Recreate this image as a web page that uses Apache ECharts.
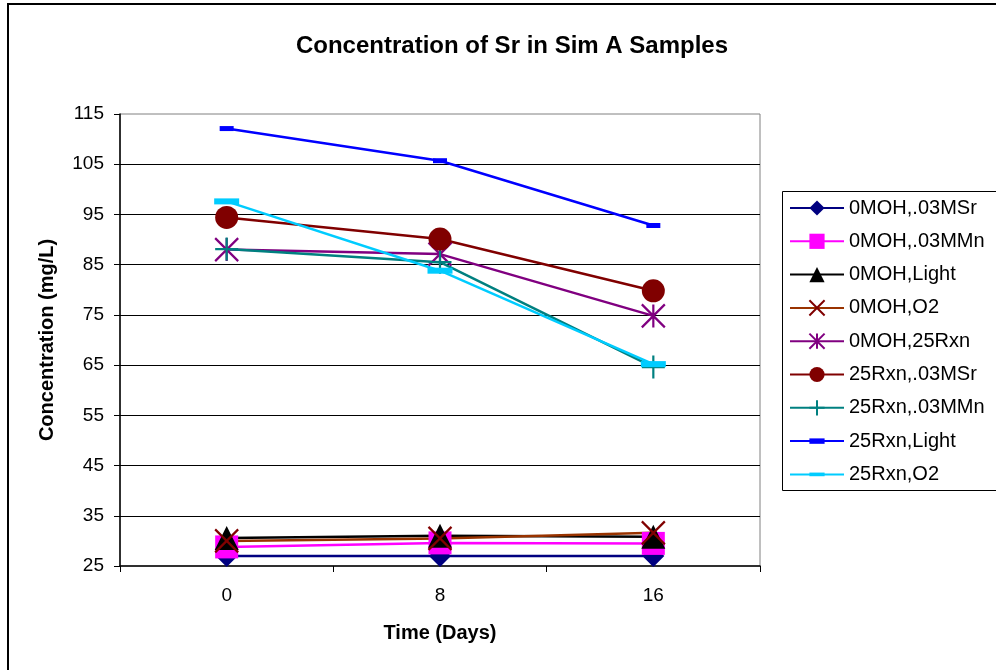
<!DOCTYPE html>
<html>
<head>
<meta charset="utf-8">
<title>Concentration of Sr in Sim A Samples</title>
<script src="https://cdn.jsdelivr.net/npm/echarts@6/dist/echarts.min.js"></script>
<style>
  html, body { margin: 0; padding: 0; background: #fff; }
  #chart { width: 996px; height: 670px; }
</style>
</head>
<body>
<div id="chart"></div>
<script>
// Sampling days (x categories)
const days = ['0', '8', '16'];

// Y-axis tick values (mg/L)
const yTicks = [25, 35, 45, 55, 65, 75, 85, 95, 105, 115];

// Sr concentration (mg/L) per sample set
const names = [
  '0MOH,.03MSr', '0MOH,.03MMn', '0MOH,Light', '0MOH,O2', '0MOH,25Rxn',
  '25Rxn,.03MSr', '25Rxn,.03MMn', '25Rxn,Light', '25Rxn,O2'
];
const moh0Sr    = [27.0, 27.0, 27.0];
const moh0Mn    = [28.8, 29.6, 29.5];
const moh0Light = [30.6, 31.0, 30.8];
const moh0O2    = [30.0, 30.5, 31.6];
const moh0Rxn   = [88.0, 87.1, 74.8];
const rxn25Sr   = [94.4, 90.1, 79.8];
const rxn25Mn   = [88.1, 85.5, 64.6];
const rxn25Light= [112.1, 105.7, 92.8];
const rxn25O2   = [97.6, 83.8, 65.2];

const FONT = '"Liberation Sans", Arial, sans-serif';

// Marker shapes drawn as outlines
const xMark    = 'path://M0,0L10,10M10,0L0,10';
const starMark = 'path://M5,0L5,10M0,0L10,10M10,0L0,10';
const plusMark = 'path://M5,0L5,10M0,5L10,5';
// Dash markers kept inside a square box so they scale the same in the legend
const dashSmall = 'path://M0,4.5h14v5h-14z M0,0L0,0 M14,14L14,14';
const dashWide  = 'path://M0,9.5h25v6h-25z M0,0L0,0 M25,25L25,25';

function lineSeries(name, data, lineColor, markColor, symbol, size, outline) {
  return {
    name: name,
    type: 'line',
    data: data,
    symbol: symbol,
    symbolSize: size,
    showAllSymbol: true,
    lineStyle: { color: lineColor, width: 2.5 },
    itemStyle: {
      color: markColor,
      borderColor: markColor,
      borderWidth: outline ? 2.2 : 0
    },
    emphasis: { disabled: true },
    animation: false
  };
}

const series = [
  lineSeries(names[0], moh0Sr,     '#000080', '#000080', 'diamond',  22, false),
  lineSeries(names[1], moh0Mn,     '#FF00FF', '#FF00FF', 'rect',     23, false),
  lineSeries(names[2], moh0Light,  '#000000', '#000000', 'triangle', 24, false),
  lineSeries(names[3], moh0O2,     '#993300', '#800000', xMark,      23, true),
  lineSeries(names[4], moh0Rxn,    '#800080', '#800080', starMark,   23, true),
  lineSeries(names[5], rxn25Sr,    '#800000', '#800000', 'circle',   23, false),
  lineSeries(names[6], rxn25Mn,    '#008080', '#008080', plusMark,   23, true),
  lineSeries(names[7], rxn25Light, '#0000FF', '#0000FF', dashSmall,  14, false),
  lineSeries(names[8], rxn25O2,    '#00CCFF', '#00CCFF', dashWide,   25, false)
];

const chart = echarts.init(document.getElementById('chart'), null, { renderer: 'canvas' });

chart.setOption({
  backgroundColor: '#ffffff',
  animation: false,
  title: {
    text: 'Concentration of Sr in Sim A Samples',
    left: 507,
    top: 29,
    textAlign: 'center',
    textStyle: { fontFamily: FONT, fontSize: 24, fontWeight: 'bold', color: '#000' }
  },
  graphic: [
    // chart area frame (right and bottom edges run past the canvas)
    {
      type: 'rect',
      silent: true,
      shape: { x: 8, y: 4, width: 1100, height: 800 },
      style: { fill: 'none', stroke: '#000', lineWidth: 2 }
    },
    // legend frame, continuing past the right edge
    {
      type: 'rect',
      silent: true,
      shape: { x: 782.5, y: 191.5, width: 300, height: 299 },
      style: { fill: 'none', stroke: '#000', lineWidth: 1 }
    }
  ],
  legend: {
    orient: 'vertical',
    left: 782,
    top: 191,
    data: names,
    selectedMode: false,
    itemWidth: 54,
    itemHeight: 19,
    itemGap: 13.3,
    padding: [7, 10, 6, 7],
    borderWidth: 0,
    textStyle: { fontFamily: FONT, fontSize: 20, color: '#000', lineHeight: 19 }
  },
  grid: {
    left: 120,
    right: 236,
    top: 114,
    bottom: 104,
    show: true,
    borderColor: '#808080',
    borderWidth: 1,
    containLabel: false,
    outerBoundsMode: 'none'
  },
  xAxis: {
    type: 'category',
    data: days,
    boundaryGap: true,
    name: 'Time (Days)',
    nameLocation: 'middle',
    nameGap: 57,
    nameTextStyle: { fontFamily: FONT, fontSize: 20, fontWeight: 'bold', color: '#000' },
    axisLine: { lineStyle: { color: '#000', width: 1.5 } },
    axisTick: { show: true, inside: false, length: 6, interval: 0, alignWithLabel: false,
                lineStyle: { color: '#000', width: 1 } },
    axisLabel: { fontFamily: FONT, fontSize: 19, color: '#000', margin: 20, interval: 0 },
    splitLine: { show: false }
  },
  yAxis: {
    type: 'value',
    min: 25,
    max: 115,
    name: 'Concentration (mg/L)',
    nameLocation: 'middle',
    nameRotate: 90,
    nameGap: 63,
    nameTextStyle: { fontFamily: FONT, fontSize: 20, fontWeight: 'bold', color: '#000' },
    axisLine: { show: true, lineStyle: { color: '#000', width: 1.5 } },
    axisTick: { show: true, inside: false, length: 6, customValues: yTicks,
                lineStyle: { color: '#000', width: 1 } },
    axisLabel: { fontFamily: FONT, fontSize: 19, color: '#000', margin: 16, customValues: yTicks },
    splitLine: { show: true, showMinLine: false, showMaxLine: false,
                 lineStyle: { color: '#000', width: 1 } }
  },
  series: series
});
</script>
</body>
</html>
